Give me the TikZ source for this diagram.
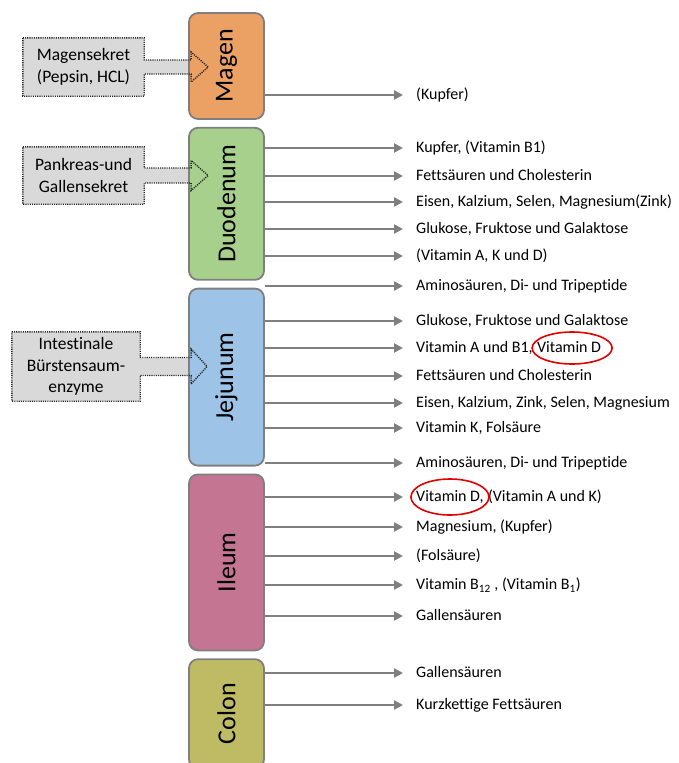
\documentclass[tikz,border=0pt]{standalone}
\usepackage{fontspec}
\setmainfont{Carlito}[Ligatures=NoCommon]
\usepackage{tikz}
\usetikzlibrary{arrows.meta,positioning,calc,backgrounds}
\definecolor{magenc}{HTML}{EBA064}
\definecolor{duoc}{HTML}{A8D08D}
\definecolor{jejc}{HTML}{9DC3E6}
\definecolor{ileumc}{HTML}{C47592}
\definecolor{colonc}{HTML}{BFBA64}
\definecolor{rahmen}{HTML}{7F7F7F}
\definecolor{sekretgrau}{HTML}{D9D9D9}

\begin{document}
\begin{tikzpicture}[
  x=1pt,y=-1pt,node distance=7pt,
  organ/.style={draw=rahmen,line width=1.8pt,rounded corners=9pt,minimum width=75pt,inner sep=0pt,font=\fontsize{26}{30}\selectfont},
  sekret/.style={minimum width=121pt,align=center,inner sep=0pt,font=\fontsize{17.5}{21.5}\selectfont},
  sekretrand/.style={draw=black!85,line width=1.4pt,dash pattern=on 1.1pt off 1.1pt},
  lbl/.style={anchor=west,inner sep=0pt,text height=12pt,text depth=3pt,font=\fontsize{16}{19}\selectfont},
  ar/.style={-{Triangle[length=9pt,width=9pt]},draw=rahmen,line width=2.5pt,shorten >=13pt},
  ring/.style={draw=red!90!black,line width=1.6pt}
]
\useasboundingbox (0,0) rectangle (678,763);
% Darmabschnitte
\node[organ,fill=magenc,minimum height=106pt] (magen) at (226.5,66) {\rotatebox{90}{Magen}};
\node[organ,fill=duoc,minimum height=152pt,below=of magen] (duo) {\rotatebox{90}{Duodenum}};
\node[organ,fill=jejc,minimum height=177pt,below=of duo] (jej) {\rotatebox{90}{Jejunum}};
\node[organ,fill=ileumc,minimum height=176pt,below=of jej] (ileum) {\rotatebox{90}{Ileum}};
\node[organ,fill=colonc,minimum height=109pt,below=of ileum] (colon) {\rotatebox{90}{Colon}};
% Sekrete
\node[sekret,minimum height=58pt] (ms) at (83.5,67) {Magensekret\\(Pepsin, HCL)};
\node[sekret,minimum height=57pt] (ps) at (83.5,175.5) {Pankreas-und\\Gallensekret};
\node[sekret,minimum width=128pt,minimum height=69pt] (is) at (76,366.5) {Intestinale\\Bürstensaum-\\enzyme};
\begin{scope}[on background layer]
\fill[sekretgrau] (ms.north west) -- (ms.north east) -- ($(ms.east)+(0,-7)$) -- ($(magen.west|-ms.east)+(3,-7)$) -- ($(magen.west|-ms.east)+(3,-15)$) -- ($(magen.west|-ms.east)+(20,0)$) -- ($(magen.west|-ms.east)+(3,15)$) -- ($(magen.west|-ms.east)+(3,7)$) -- ($(ms.east)+(0,7)$) -- (ms.south east) -- (ms.south west) -- cycle;
\fill[sekretgrau] (ps.north west) -- (ps.north east) -- ($(ps.east)+(0,-7.5)$) -- ($(duo.west|-ps.east)+(3,-7.5)$) -- ($(duo.west|-ps.east)+(3,-15)$) -- ($(duo.west|-ps.east)+(20,0)$) -- ($(duo.west|-ps.east)+(3,15)$) -- ($(duo.west|-ps.east)+(3,7.5)$) -- ($(ps.east)+(0,7.5)$) -- (ps.south east) -- (ps.south west) -- cycle;
\fill[sekretgrau] (is.north west) -- (is.north east) -- ($(is.east)+(0,-9)$) -- ($(jej.west|-is.east)+(3,-9)$) -- ($(jej.west|-is.east)+(3,-17.5)$) -- ($(jej.west|-is.east)+(19,0)$) -- ($(jej.west|-is.east)+(3,17.5)$) -- ($(jej.west|-is.east)+(3,9)$) -- ($(is.east)+(0,9)$) -- (is.south east) -- (is.south west) -- cycle;
\end{scope}
\draw[sekretrand] (ms.north west) -- (ms.north east) -- ($(ms.east)+(0,-7)$) -- ($(magen.west|-ms.east)+(3,-7)$) -- ($(magen.west|-ms.east)+(3,-15)$) -- ($(magen.west|-ms.east)+(20,0)$) -- ($(magen.west|-ms.east)+(3,15)$) -- ($(magen.west|-ms.east)+(3,7)$) -- ($(ms.east)+(0,7)$) -- (ms.south east) -- (ms.south west) -- cycle;
\draw[sekretrand] (ps.north west) -- (ps.north east) -- ($(ps.east)+(0,-7.5)$) -- ($(duo.west|-ps.east)+(3,-7.5)$) -- ($(duo.west|-ps.east)+(3,-15)$) -- ($(duo.west|-ps.east)+(20,0)$) -- ($(duo.west|-ps.east)+(3,15)$) -- ($(duo.west|-ps.east)+(3,7.5)$) -- ($(ps.east)+(0,7.5)$) -- (ps.south east) -- (ps.south west) -- cycle;
\draw[sekretrand] (is.north west) -- (is.north east) -- ($(is.east)+(0,-9)$) -- ($(jej.west|-is.east)+(3,-9)$) -- ($(jej.west|-is.east)+(3,-17.5)$) -- ($(jej.west|-is.east)+(19,0)$) -- ($(jej.west|-is.east)+(3,17.5)$) -- ($(jej.west|-is.east)+(3,9)$) -- ($(is.east)+(0,9)$) -- (is.south east) -- (is.south west) -- cycle;
% Resorption
\node[lbl] (m1) at (416,95) {(Kupfer)};
\node[lbl] (d1) at (416,148) {Kupfer, (Vitamin B1)};
\node[lbl] (d2) at (416,176) {Fettsäuren und Cholesterin};
\node[lbl] (d3) at (416,202) {Eisen, Kalzium, Selen, Magnesium(Zink)};
\node[lbl] (d4) at (416,229) {Glukose, Fruktose und Galaktose};
\node[lbl] (d5) at (416,256) {(Vitamin A, K und D)};
\node[lbl] (a1) at (416,286) {Aminosäuren, Di- und Tripeptide};
\node[lbl] (j1) at (416,321) {Glukose, Fruktose und Galaktose};
\node[lbl] (j2) at (416,348) {Vitamin A und B1,};
\node[lbl,right=4pt of j2] (j2d) {Vitamin D};
\node[lbl] (j3) at (416,376) {Fettsäuren und Cholesterin};
\node[lbl] (j4) at (416,403) {Eisen, Kalzium, Zink, Selen, Magnesium};
\node[lbl] (j5) at (416,428) {Vitamin K, Folsäure};
\node[lbl] (a2) at (416,463) {Aminosäuren, Di- und Tripeptide};
\node[lbl] (i1) at (416,497) {Vitamin D,};
\node[lbl,right=4pt of i1] (i1b) {(Vitamin A und K)};
\node[lbl] (i2) at (416,527) {Magnesium, (Kupfer)};
\node[lbl] (i3) at (416,556) {(Folsäure)};
\node[lbl] (i4) at (416,585) {Vitamin B\textsubscript{12} , (Vitamin B\textsubscript{1})};
\node[lbl] (i5) at (416,616) {Gallensäuren};
\node[lbl] (c1) at (416,673) {Gallensäuren};
\node[lbl] (c2) at (416,705) {Kurzkettige Fettsäuren};
\coordinate (gap1) at (265,286);
\coordinate (gap2) at (265,463);
\draw[ar] (magen.east|-m1)--(m1);
\draw[ar] (duo.east|-d1)--(d1); \draw[ar] (duo.east|-d2)--(d2); \draw[ar] (duo.east|-d3)--(d3);
\draw[ar] (duo.east|-d4)--(d4); \draw[ar] (duo.east|-d5)--(d5);
\draw[ar] (gap1)--(a1);
\draw[ar] (jej.east|-j1)--(j1); \draw[ar] (jej.east|-j2)--(j2); \draw[ar] (jej.east|-j3)--(j3);
\draw[ar] (jej.east|-j4)--(j4); \draw[ar] (jej.east|-j5)--(j5);
\draw[ar] (gap2)--(a2);
\draw[ar] (ileum.east|-i1)--(i1); \draw[ar] (ileum.east|-i2)--(i2); \draw[ar] (ileum.east|-i3)--(i3);
\draw[ar] (ileum.east|-i4)--(i4); \draw[ar] (ileum.east|-i5)--(i5);
\draw[ar] (colon.east|-c1)--(c1); \draw[ar] (colon.east|-c2)--(c2);
% Markierungen
\draw[ring] ([xshift=3pt]j2d.center) ellipse [x radius=40pt,y radius=16pt];
\draw[ring] (i1.center) ellipse [x radius=39pt,y radius=18pt];
\end{tikzpicture}
\end{document}
